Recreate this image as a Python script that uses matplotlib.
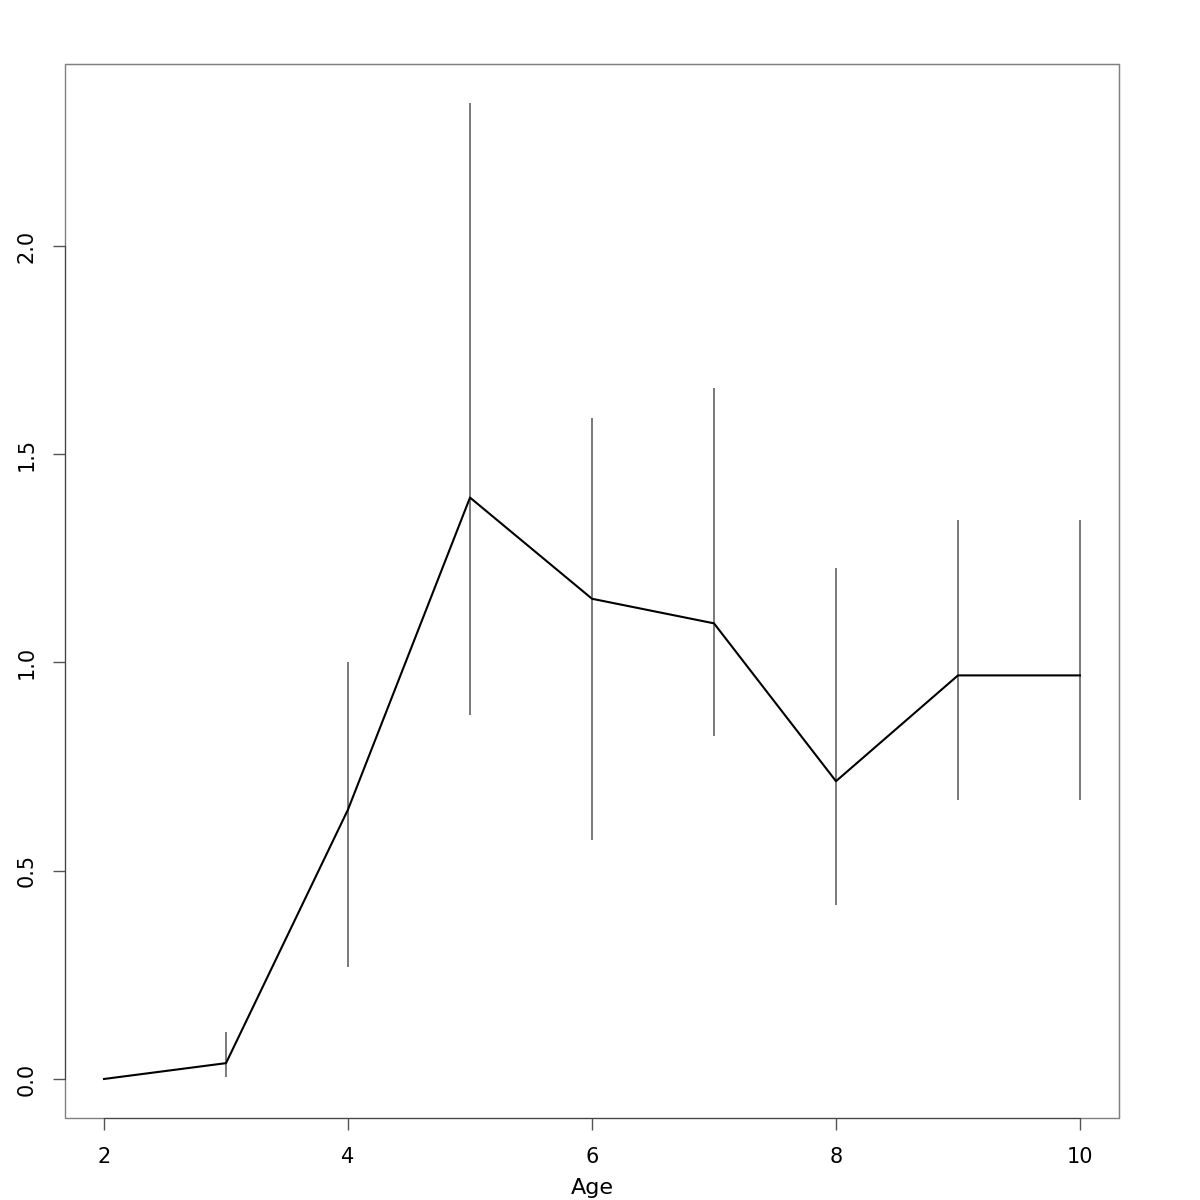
import matplotlib
matplotlib.use("Agg")
import matplotlib.pyplot as plt
from matplotlib.patches import Rectangle

age = [2, 3, 4, 5, 6, 7, 8, 9, 10]
mean = [0.0, 0.038, 0.647, 1.396, 1.153, 1.094, 0.715, 0.969, 0.969]
upper = [0.0, 0.113, 1.0, 2.343, 1.588, 1.659, 1.228, 1.341, 1.341]
lower = [0.0, 0.005, 0.269, 0.875, 0.573, 0.823, 0.417, 0.671, 0.671]
xticks = [2, 4, 6, 8, 10]
yticks = [0.0, 0.5, 1.0, 1.5, 2.0]

fig = plt.figure(figsize=(12, 12), dpi=100)
ax = fig.add_axes([65 / 1200, 82 / 1200, 1054 / 1200, 1054 / 1200])

ax.vlines(age[1:], lower[1:], upper[1:], color="#6e6e6e", linewidth=1.3)
ax.plot(age, mean, color="black", linewidth=1.5)

ax.set_xlim(1.68, 10.32)
ax.set_ylim(-0.0937, 2.437)

for s in ["top", "right"]:
    ax.spines[s].set_color("#808080")
ax.spines["left"].set_bounds(0, 2.0)
ax.spines["bottom"].set_bounds(2, 10)
ax.spines["left"].set_color("#444444")
ax.spines["bottom"].set_color("#444444")
ax.add_patch(Rectangle((0, 0), 1, 1, transform=ax.transAxes, fill=False,
                       edgecolor="#808080", linewidth=1.0, clip_on=False))

ax.set_xticks(xticks)
ax.set_xticklabels([str(x) for x in xticks])
ax.set_yticks(yticks)
ax.set_yticklabels([f"{y:.1f}" for y in yticks], rotation=90, va="center")
ax.tick_params(direction="out", length=8.6, width=1, color="#555555",
               labelsize=15, pad=12)

# R puts the x label right at the bottom edge; keep it just inside the canvas
fig.text(592 / 1200, 12 / 1200, "Age", ha="center", va="center", fontsize=16)

fig.savefig("out.png", dpi=100)
